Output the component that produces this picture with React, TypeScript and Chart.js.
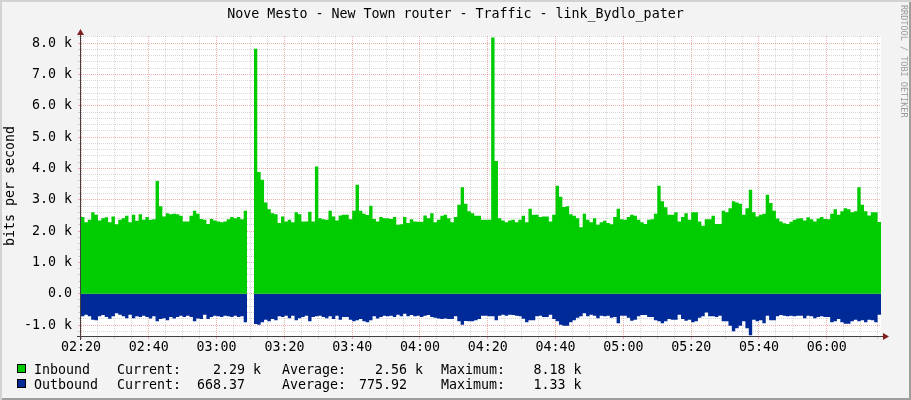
import { useEffect, useRef } from "react"
import { Chart, registerables } from "chart.js"

Chart.register(...registerables)

// kbit/s, one value per minute starting at 02:20 (null = no data)
const inboundK: (number | null)[] = [
  2.45, 2.28, 2.36, 2.6, 2.52, 2.34, 2.41, 2.44, 2.28, 2.47,
  2.22, 2.36, 2.41, 2.49, 2.28, 2.52, 2.33, 2.54, 2.36, 2.45,
  2.36, 2.38, 3.6, 2.79, 2.47, 2.57, 2.54, 2.55, 2.54, 2.49,
  2.31, 2.31, 2.49, 2.65, 2.55, 2.39, 2.36, 2.23, 2.39, 2.34,
  2.31, 2.28, 2.31, 2.38, 2.45, 2.41, 2.45, 2.38, 2.65, null,
  null, 7.82, 3.89, 3.64, 2.91, 2.7, 2.57, 2.54, 2.26, 2.47,
  2.31, 2.36, 2.28, 2.6, 2.54, 2.31, 2.31, 2.62, 2.31, 4.06,
  2.41, 2.38, 2.36, 2.65, 2.47, 2.34, 2.5, 2.52,
  2.52, 2.38, 2.65, 3.48, 2.65, 2.55, 2.51, 2.81, 2.39, 2.31,
  2.45, 2.41, 2.41, 2.39, 2.45, 2.2, 2.22, 2.45, 2.26, 2.38,
  2.31, 2.3, 2.3, 2.5, 2.41, 2.57, 2.28, 2.36, 2.49, 2.52,
  2.41, 2.28, 2.45, 2.84, 3.4, 2.87, 2.63, 2.57, 2.49, 2.49,
  2.36, 2.36, 2.36, 8.18, 4.24, 2.41, 2.34, 2.28, 2.34, 2.36,
  2.28, 2.36, 2.49, 2.28, 2.71, 2.52, 2.52, 2.45, 2.47, 2.47,
  2.31, 2.52, 3.45, 3.1, 2.77, 2.79, 2.54, 2.49, 2.41, 2.12,
  2.55, 2.36, 2.28, 2.41, 2.2, 2.28, 2.33, 2.26, 2.22, 2.45,
  2.71, 2.38, 2.36, 2.45, 2.52, 2.49, 2.36, 2.28, 2.23, 2.36,
  2.38, 2.55, 3.45, 2.95, 2.76, 2.52, 2.52, 2.6, 2.31, 2.45,
  2.57, 2.36, 2.6, 2.6, 2.31, 2.17, 2.38, 2.38, 2.49, 2.23,
  2.23, 2.65, 2.6, 2.73, 2.95, 2.91, 2.87, 2.52, 2.73, 3.32,
  2.6, 2.47, 2.52, 2.55, 3.16, 2.9, 2.65, 2.4, 2.31, 2.25,
  2.23, 2.3, 2.36, 2.4, 2.41, 2.34, 2.44, 2.38, 2.31, 2.4,
  2.45, 2.39, 2.38, 2.55, 2.7, 2.52, 2.63, 2.73, 2.7, 2.6,
  2.63, 3.4, 2.84, 2.63, 2.5, 2.6, 2.6, 2.29,
]

// drawn below zero
const outboundK: (number | null)[] = [
  0.72, 0.67, 0.72, 0.83, 0.85, 0.72, 0.68, 0.74, 0.8, 0.72,
  0.62, 0.67, 0.72, 0.78, 0.67, 0.78, 0.72, 0.74, 0.7, 0.74,
  0.79, 0.72, 0.88, 0.81, 0.78, 0.85, 0.74, 0.79, 0.74, 0.7,
  0.74, 0.7, 0.74, 0.88, 0.79, 0.81, 0.67, 0.81, 0.74, 0.7,
  0.72, 0.74, 0.7, 0.72, 0.74, 0.7, 0.74, 0.72, 0.91, null,
  null, 0.97, 0.99, 0.91, 0.83, 0.88, 0.81, 0.85, 0.72, 0.74,
  0.7, 0.78, 0.7, 0.85, 0.78, 0.74, 0.7, 0.88, 0.74, 0.72,
  0.7, 0.74, 0.78, 0.72, 0.81, 0.7, 0.83, 0.74,
  0.74, 0.83, 0.88, 0.85, 0.81, 0.88, 0.91, 0.85, 0.72, 0.79,
  0.74, 0.7, 0.72, 0.7, 0.74, 0.67, 0.72, 0.64, 0.72, 0.68,
  0.72, 0.7, 0.74, 0.7, 0.68, 0.74, 0.77, 0.79, 0.81, 0.79,
  0.81, 0.81, 0.72, 0.88, 0.99, 0.87, 0.88, 0.88, 0.85, 0.81,
  0.7, 0.7, 0.72, 0.72, 0.85, 0.7, 0.67, 0.7, 0.67, 0.68,
  0.7, 0.72, 0.8, 0.91, 0.85, 0.85, 0.72, 0.7, 0.74, 0.74,
  0.67, 0.81, 0.88, 0.99, 1.02, 1.02, 0.91, 0.85, 0.77, 0.72,
  0.62, 0.72, 0.67, 0.7, 0.78, 0.7, 0.72, 0.7, 0.77, 0.74,
  0.94, 0.7, 0.7, 0.77, 0.86, 0.83, 0.72, 0.68, 0.68, 0.74,
  0.74, 0.85, 0.88, 0.94, 0.88, 0.81, 0.83, 0.83, 0.67, 0.81,
  0.86, 0.83, 0.91, 0.88, 0.77, 0.72, 0.6, 0.72, 0.72, 0.74,
  0.7, 0.88, 0.88, 1.02, 1.2, 1.1, 1.02, 0.88, 1.1, 1.33,
  0.83, 0.88, 0.85, 0.94, 0.7, 0.85, 0.85, 0.72, 0.68, 0.7,
  0.72, 0.7, 0.72, 0.7, 0.7, 0.78, 0.7, 0.72, 0.78, 0.74,
  0.72, 0.74, 0.74, 0.91, 0.88, 0.81, 0.91, 0.96, 0.96, 0.88,
  0.83, 0.88, 0.85, 0.91, 0.83, 0.85, 0.91, 0.67,
]

const xTickLabels = [
  "02:20", "02:40", "03:00", "03:20", "03:40", "04:00",
  "04:20", "04:40", "05:00", "05:20", "05:40", "06:00",
]

const seriesNames = ["Inbound", "Outbound"]
const currentValues = ["2.29 k", "668.37"]
const averageValues = ["2.56 k", "775.92"]
const maximumValues = ["8.18 k", "1.33 k"]

const GREEN = "#00CC00"
const BLUE = "#002A97"
const FONT = "'DejaVu Sans Mono', monospace"
const MINOR = "rgba(143, 143, 143, 0.35)"
const MAJOR = "rgba(224, 80, 80, 0.45)"

// hold each minute's value across its whole interval, like rrdtool's AREA
const toSteps = (values: (number | null)[], sign: number) => {
  const pts: { x: number; y: number | null }[] = []
  values.forEach((v, i) => {
    if (v === null) pts.push({ x: i, y: null })
    else pts.push({ x: i, y: sign * v }, { x: i + 1, y: sign * v })
  })
  return pts
}

const plotBackground = {
  id: "plotBackground",
  beforeDraw(chart: any) {
    const { ctx, chartArea } = chart
    ctx.save()
    ctx.fillStyle = "#ffffff"
    ctx.fillRect(chartArea.left, chartArea.top, chartArea.right - chartArea.left, chartArea.bottom - chartArea.top)
    ctx.restore()
  },
}

const axisArrows = {
  id: "axisArrows",
  afterDraw(chart: any) {
    const { ctx, chartArea } = chart
    const { left, right, top, bottom } = chartArea
    ctx.save()
    ctx.strokeStyle = "#404040"
    ctx.lineWidth = 1
    ctx.beginPath()
    ctx.moveTo(left - 4, bottom + 0.5)
    ctx.lineTo(right + 3, bottom + 0.5)
    ctx.moveTo(left - 0.5, bottom + 4)
    ctx.lineTo(left - 0.5, top - 3)
    ctx.stroke()
    ctx.fillStyle = "#7F1F1F"
    ctx.beginPath()
    ctx.moveTo(left - 0.5, top - 7)
    ctx.lineTo(left - 4, top - 1)
    ctx.lineTo(left + 3, top - 1)
    ctx.closePath()
    ctx.fill()
    ctx.beginPath()
    ctx.moveTo(right + 8, bottom + 0.5)
    ctx.lineTo(right + 2, bottom - 3)
    ctx.lineTo(right + 2, bottom + 4)
    ctx.closePath()
    ctx.fill()
    ctx.restore()
  },
}

const isWhole = (v: number) => Math.abs(v - Math.round(v)) < 1e-6

export default function App() {
  const chartRef = useRef<HTMLCanvasElement>(null)

  useEffect(() => {
    if (!chartRef.current) return
    const chart = new Chart(chartRef.current, {
      type: "line",
      data: {
        datasets: [
          {
            label: seriesNames[0],
            data: toSteps(inboundK, 1),
            backgroundColor: GREEN,
            borderColor: "rgba(0,0,0,0)",
            borderWidth: 0,
            pointRadius: 0,
            fill: "origin",
            tension: 0,
          },
          {
            label: seriesNames[1],
            data: toSteps(outboundK, -1),
            backgroundColor: BLUE,
            borderColor: "rgba(0,0,0,0)",
            borderWidth: 0,
            pointRadius: 0,
            fill: "origin",
            tension: 0,
          },
        ],
      },
      options: {
        responsive: false,
        animation: false,
        layout: { padding: { top: 36, right: 30, left: 0, bottom: 0 } },
        plugins: {
          legend: { display: false },
          tooltip: { enabled: false },
        },
        scales: {
          x: {
            type: "linear",
            min: 0,
            max: 236,
            z: 1,
            afterBuildTicks: (scale: any) => {
              const ticks = []
              for (let m = 0; m <= 235; m += 5) ticks.push({ value: m })
              scale.ticks = ticks
            },
            afterFit: (scale: any) => {
              scale.height = 64
            },
            grid: {
              color: (c: any) => (c.tick && c.tick.value % 20 === 0 ? MAJOR : MINOR),
              lineWidth: 1,
              tickLength: 3,
            },
            border: { display: false, dash: [1, 1] },
            ticks: {
              autoSkip: false,
              maxRotation: 0,
              padding: 1,
              color: "#000",
              font: { family: FONT, size: 13.3 },
              callback: (v: any) => (v % 20 === 0 ? xTickLabels[v / 20] : ""),
            },
          },
          y: {
            type: "linear",
            min: -1.35,
            max: 8.23,
            z: 1,
            afterBuildTicks: (scale: any) => {
              const ticks = []
              for (let i = -6; i <= 41; i++) ticks.push({ value: i / 5 })
              scale.ticks = ticks
            },
            afterFit: (scale: any) => {
              scale.width = 81
            },
            grid: {
              color: (c: any) => (c.tick && isWhole(c.tick.value) ? MAJOR : MINOR),
              lineWidth: 1,
              tickLength: 3,
            },
            border: { display: false, dash: [1, 1] },
            title: {
              display: true,
              text: "bits per second",
              color: "#000",
              font: { family: FONT, size: 13.3 },
              padding: { top: 3, bottom: 0 },
            },
            ticks: {
              autoSkip: false,
              padding: 6,
              color: "#000",
              font: { family: FONT, size: 13.3 },
              callback: (v: any) => {
                if (!isWhole(v)) return ""
                const k = Math.round(v)
                return k === 0 ? "0.0" : `${k.toFixed(1)} k`
              },
            },
          },
        },
      },
      plugins: [plotBackground, axisArrows],
    } as any)

    return () => {
      chart.destroy()
    }
  }, [])

  const textStyle = {
    position: "absolute" as const,
    fontFamily: FONT,
    fontSize: "13.3px",
    lineHeight: "15px",
    whiteSpace: "pre" as const,
    color: "#000",
  }

  const valueField = (s: string) => {
    const [num, unit] = s.split(" ")
    return num.padStart(6) + (unit ? " " + unit : "")
  }

  const rowTops = [361.5, 377]
  const squareTops = [364, 379]
  const colors = [GREEN, BLUE]

  return (
    <div
      style={{
        position: "absolute",
        left: 0,
        top: 0,
        width: 911,
        height: 400,
        background: "#F3F3F3",
        boxShadow: "inset 2px 2px 0 #D2D2D2, inset -2px -2px 0 #9E9E9E",
        overflow: "hidden",
      }}
    >
      <canvas ref={chartRef} width={911} height={400} style={{ position: "absolute", left: 0, top: 0 }} />
      <div style={{ ...textStyle, top: 6, left: 0, width: 911, textAlign: "center" }}>
        Nove Mesto - New Town router - Traffic - link_Bydlo_pater
      </div>
      <div
        style={{
          position: "absolute",
          left: 899,
          top: 5,
          writingMode: "vertical-rl",
          fontFamily: FONT,
          fontSize: "8.5px",
          lineHeight: "10px",
          color: "#9A9A9A",
          whiteSpace: "pre",
        }}
      >
        RRDTOOL / TOBI OETIKER
      </div>
      {seriesNames.map((name, i) => (
        <div key={name}>
          <div
            style={{
              position: "absolute",
              left: 17,
              top: squareTops[i],
              width: 7,
              height: 7,
              background: colors[i],
              border: "1px solid #000",
            }}
          />
          <span style={{ ...textStyle, top: rowTops[i], left: 34 }}>{name}</span>
          <span style={{ ...textStyle, top: rowTops[i], left: 117 }}>Current:</span>
          <span style={{ ...textStyle, top: rowTops[i], left: 197 }}>{valueField(currentValues[i])}</span>
          <span style={{ ...textStyle, top: rowTops[i], left: 282 }}>Average:</span>
          <span style={{ ...textStyle, top: rowTops[i], left: 359 }}>{valueField(averageValues[i])}</span>
          <span style={{ ...textStyle, top: rowTops[i], left: 441 }}>Maximum:</span>
          <span style={{ ...textStyle, top: rowTops[i], left: 517.5 }}>{valueField(maximumValues[i])}</span>
        </div>
      ))}
    </div>
  )
}
